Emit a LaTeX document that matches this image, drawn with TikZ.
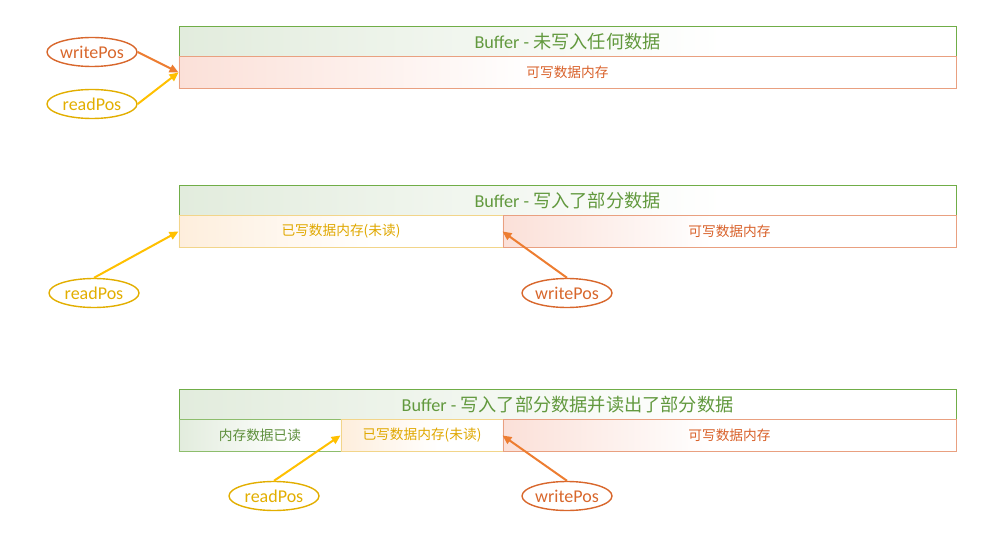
\documentclass[tikz,border=0pt]{standalone}
\usepackage{fontspec}
\setmainfont{Carlito}
\newfontfamily\cjk{Noto Sans CJK SC}
\usepackage{tikz}
\usetikzlibrary{positioning}
\usetikzlibrary{arrows.meta}
\usetikzlibrary{shapes.geometric}
\usepackage{xcolor}

\definecolor{bufgreen}{HTML}{70AD47}
\definecolor{titletext}{HTML}{62993E}
\definecolor{titlefill}{HTML}{E2ECDD}
\definecolor{freefill}{HTML}{FBE0D8}
\definecolor{freeline}{HTML}{E9A080}
\definecolor{freetext}{HTML}{D9622B}
\definecolor{unreadfill}{HTML}{FEEEDC}
\definecolor{unreadline}{HTML}{F2D58A}
\definecolor{unreadtext}{HTML}{E0A800}
\definecolor{readfill}{HTML}{E2ECDD}
\definecolor{readtext}{HTML}{5E8F3C}
\definecolor{wcol}{HTML}{D8672C}
\definecolor{warrow}{HTML}{ED7D31}
\definecolor{rcol}{HTML}{E2AE00}
\definecolor{rarrow}{HTML}{FFC000}

% quick fade to white from the left edge
\pgfdeclarehorizontalshading{freefade}{100bp}{color(0bp)=(freefill); color(25bp)=(freefill); color(48bp)=(white); color(100bp)=(white)}
\pgfdeclarehorizontalshading{unreadfade}{100bp}{color(0bp)=(unreadfill); color(25bp)=(unreadfill); color(55bp)=(white); color(100bp)=(white)}
\pgfdeclarehorizontalshading{readfade}{100bp}{color(0bp)=(readfill); color(25bp)=(readfill); color(60bp)=(white); color(100bp)=(white)}
\pgfdeclarehorizontalshading{titlefade}{100bp}{color(0bp)=(titlefill); color(25bp)=(titlefill); color(60bp)=(white); color(100bp)=(white)}

\tikzset{
  titlebar/.style={rectangle, anchor=north west, minimum width=777, minimum height=30,
    inner sep=0, draw=bufgreen, line width=1.3pt, shading=titlefade,
    text=titletext, font=\fontsize{18.2}{21}\selectfont},
  cell/.style={rectangle, anchor=north west, minimum height=32, inner sep=0, line width=0.9pt},
  freecell/.style={cell, draw=freeline, shading=freefade, text=freetext},
  unreadcell/.style={cell, draw=unreadline, shading=unreadfade, text=unreadtext},
  readcell/.style={cell, draw=bufgreen!80, shading=readfade, text=readtext},
  posmark/.style={ellipse, minimum width=90, minimum height=29, inner sep=0, line width=1.4pt,
    font=\fontsize{18}{21}\selectfont},
  writepos/.style={posmark, draw=wcol, text=wcol},
  readpos/.style={posmark, draw=rcol, text=rcol},
  warr/.style={draw=warrow, line width=2pt, -{Triangle[length=9pt, width=8pt]}},
  rarr/.style={draw=rarrow, line width=2pt, -{Triangle[length=9pt, width=8pt]}}
}

\begin{document}
\begin{tikzpicture}[x=1pt, y=-1pt, every node/.style={font=\fontsize{13.7}{16}\selectfont}]
\useasboundingbox (0,0) rectangle (981,534);

% Buffers
\foreach \n/\y/\txt in {1/26/未写入任何数据, 2/185/写入了部分数据, 3/389/写入了部分数据并读出了部分数据} {
    \node[titlebar] (t\n) at (178.5,\y) {Buffer - {\cjk \txt}};
}

% cells
\node[freecell, minimum width=777] (f1) at (178.5,56) {\cjk 可写数据内存};

\node[unreadcell, minimum width=324] (u2) at (178.5,215) {\cjk 已写数据内存(未读)};
\node[freecell, minimum width=453] (f2) at (502.5,215) {\cjk 可写数据内存};

\node[readcell, minimum width=162] (d3) at (178.5,419) {\cjk 内存数据已读};
\node[unreadcell, minimum width=162] (u3) at (340.5,419) {\cjk 已写数据内存(未读)};
\node[freecell, minimum width=453] (f3) at (502.5,419) {\cjk 可写数据内存};

% pointers
\node[writepos] (wp1) at (92,52) {writePos};
\node[readpos] (rp1) at (92,104) {readPos};
\node[readpos] (rp2) at (94,293) {readPos};
\node[writepos] (wp2) at (567,293) {writePos};
\node[readpos] (rp3) at (274,496) {readPos};
\node[writepos] (wp3) at (567,496) {writePos};

\draw[warr] (wp1.east) -- (f1.west);
\draw[rarr] (rp1.east) -- (f1.west);
\draw[rarr] (rp2.north) -- (u2.west);
\draw[warr] (wp2.north) -- (f2.west);
\draw[rarr] (rp3.north) -- (u3.west);
\draw[warr] (wp3.north) -- (f3.west);
\end{tikzpicture}
\end{document}
